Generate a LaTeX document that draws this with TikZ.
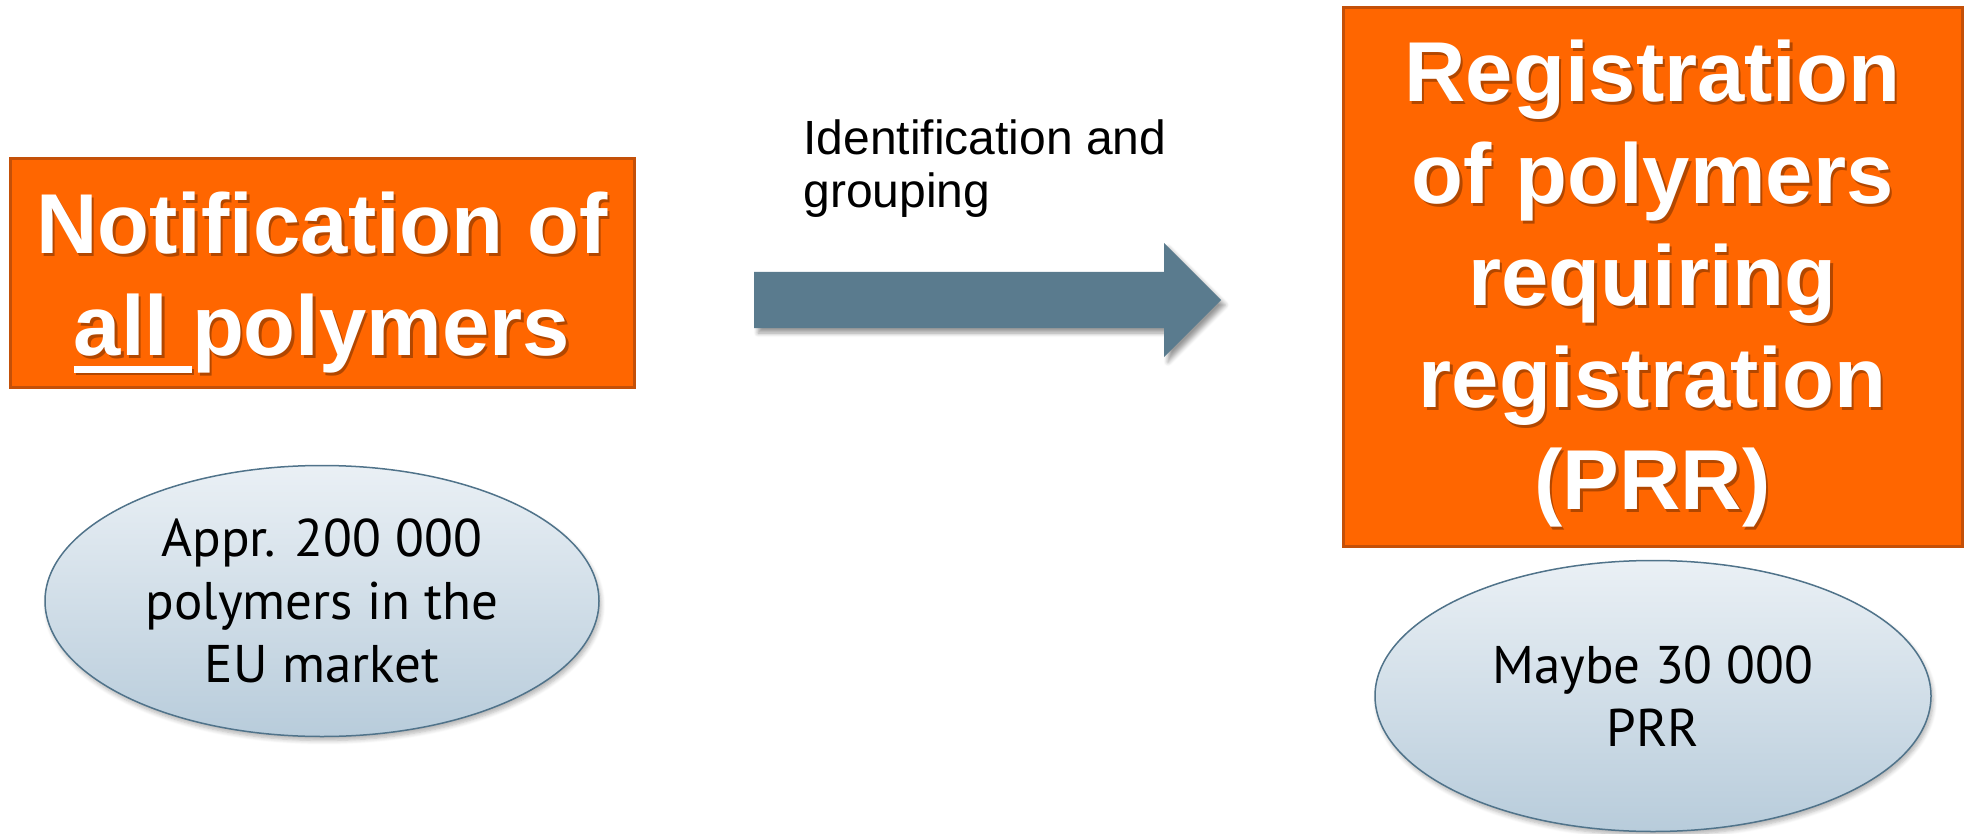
\documentclass[tikz,border=0pt]{standalone}
\usepackage{fontspec}
\setmainfont{Liberation Sans}
\newfontfamily\ellfont{PT Sans}
\usetikzlibrary{shadows.blur,shapes.geometric}
\definecolor{boxorange}{RGB}{255,102,0}
\definecolor{boxedge}{RGB}{196,80,8}
\definecolor{arrowblue}{RGB}{90,123,142}
\definecolor{elltop}{RGB}{234,240,245}
\definecolor{ellbot}{RGB}{184,204,219}
\definecolor{elledge}{RGB}{80,115,138}
\newcommand\myul[1]{\setbox0\hbox{#1}\rlap{\rule[-0.2em]{\wd0}{0.08em}}\box0}
\newcommand\lefttext{Notification of\\\myul{all }polymers}
\newcommand\righttext{Registration\\of polymers\\requiring\\registration\\(PRR)}
\begin{document}
\begin{tikzpicture}[x=0.5pt,y=-0.5pt,
 orangebox/.style={rectangle, draw=boxedge, line width=1.5pt, fill=boxorange, inner sep=0pt},
 bigtext/.style={text=white, font=\bfseries\fontsize{42.5pt}{51pt}\selectfont, align=center, inner sep=0pt},
 bigshadow/.style={bigtext, text=black, text opacity=0.3},
 infoell/.style={ellipse, draw=elledge, line width=0.75pt, top color=elltop, bottom color=ellbot, inner sep=0pt,
   font=\ellfont\fontsize{26.5pt}{31.5pt}\selectfont, align=center,
   blur shadow={shadow xshift=1pt, shadow yshift=-2pt, shadow blur steps=6, shadow opacity=30}},
 flowarrow/.style={fill=arrowblue, blur shadow={shadow xshift=2pt, shadow yshift=-2.5pt, shadow blur steps=6, shadow opacity=40}},
 caption/.style={font=\fontsize{24pt}{26.5pt}\selectfont, align=left, inner sep=0pt, anchor=north west}
]
\useasboundingbox (0,0) rectangle (1964,834);
% left box
\node[orangebox, minimum width=312pt, minimum height=114pt] (notif) at (322,273) {};
\node[bigshadow] (notifshadow) at ([xshift=1.2pt,yshift=-6.2pt]notif.center) {\lefttext};
\node[bigtext] (notiftext) at ([yshift=-5pt]notif.center) {\lefttext};
% right box
\node[orangebox, minimum width=309.5pt, minimum height=269pt] (regis) at (1652.5,277) {};
\node[bigshadow] (regisshadow) at ([xshift=1.2pt,yshift=-4.7pt]regis.center) {\righttext};
\node[bigtext] (registext) at ([yshift=-3.5pt]regis.center) {\righttext};
% arrow
\path[flowarrow] (754,272) -- (1164,272) -- (1164,243) -- (1221,300) -- (1164,357) -- (1164,328) -- (754,328) -- cycle;
\node[caption] (idlabel) at (803,119) {Identification and\\grouping};
% ellipses
\node[infoell, minimum width=277pt, minimum height=135.5pt] (allell) at (322,601) {Appr. 200 000\\polymers in the\\EU market};
\node[infoell, minimum width=278pt, minimum height=135.5pt] (prrell) at (1653,696) {Maybe 30 000\\PRR};
\end{tikzpicture}
\end{document}
